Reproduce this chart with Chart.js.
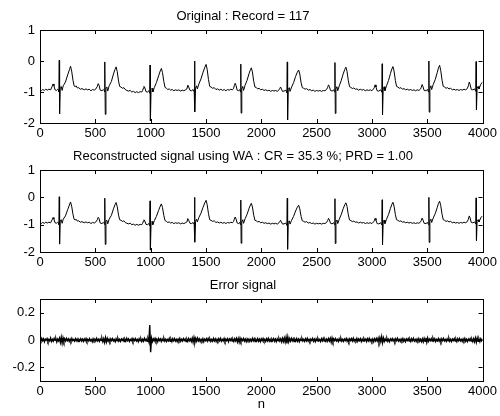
<!DOCTYPE html>
<html>
<head>
<meta charset="utf-8">
<script src="https://cdn.jsdelivr.net/npm/chart.js@4.4.1/dist/chart.umd.min.js"></script>
<style>
  body { margin: 0; background: #fff; }
  canvas { position: absolute; left: 0; }
</style>
</head>
<body>
<canvas id="c1" width="500" height="140" style="top:0px"></canvas>
<canvas id="c2" width="500" height="132" style="top:140px"></canvas>
<canvas id="c3" width="500" height="147" style="top:269px"></canvas>
<script>
// x ticks shared by the three panels
var nTicks = [0, 500, 1000, 1500, 2000, 2500, 3000, 3500, 4000];
var ecgTicks = [-2, -1, 0, 1];
var errTicks = [-0.2, 0, 0.2];

var titles = [
  'Original : Record = 117',
  'Reconstructed signal using WA : CR = 35.3 %; PRD = 1.00',
  'Error signal'
];

// original ECG, record 117 : [n, amplitude]
var ecgOriginal = [
  [0,-0.93],[12,-0.96],[24,-0.92],[40,-0.95],[52,-0.91],[66,-0.94],[80,-0.91],[96,-0.93],[110,-0.82],[118,-0.74],[126,-0.8],[136,-0.93],
  [150,-0.95],[160,-0.91],[167,-0.93],[171,-1.0],[174,0.02],[177,-1.71],[183,-0.85],[192,-0.82],[200,-0.95],[210,-0.8],[230,-0.68],
  [250,-0.45],[266,-0.28],[276,-0.17],[286,-0.32],[298,-0.62],[308,-0.8],[318,-0.83],[326,-0.8],[338,-0.87],[350,-0.86],[365,-0.91],
  [380,-0.89],[400,-0.93],[415,-0.9],[430,-0.93],[445,-0.91],[460,-0.96],[475,-0.92],[490,-0.94],[505,-0.9],
  [518,-0.82],[526,-0.73],[534,-0.78],[544,-0.94],[560,-0.96],[572,-0.92],[581,-0.95],[584,-1.0],[587,-0.03],[590,-1.72],[596,-0.87],
  [605,-0.84],[612,-0.97],[625,-0.8],[645,-0.66],[664,-0.42],[678,-0.27],[688,-0.19],[698,-0.34],[710,-0.65],[720,-0.82],
  [732,-0.84],[745,-0.88],[758,-0.86],[770,-0.92],[785,-0.95],[800,-0.97],[815,-0.95],[830,-1.0],[845,-0.98],[860,-1.02],
  [875,-0.99],[890,-1.02],[905,-0.99],[920,-1.0],[928,-0.95],
  [934,-0.88],[940,-0.82],[948,-0.87],[958,-0.99],[972,-1.0],[984,-0.96],[992,-1.04],[995,-0.13],[998,-1.93],[1004,-0.92],
  [1013,-0.88],[1020,-1.0],[1034,-0.85],[1052,-0.7],[1072,-0.48],[1087,-0.32],[1097,-0.24],[1107,-0.37],[1119,-0.66],[1130,-0.85],
  [1142,-0.88],[1155,-0.92],[1168,-0.9],[1180,-0.94],[1195,-0.92],[1210,-0.96],[1225,-0.93],[1240,-0.95],[1255,-0.93],[1270,-0.97],
  [1285,-0.94],[1300,-0.96],[1315,-0.93],[1328,-0.9],
  [1336,-0.78],[1344,-0.84],[1356,-0.95],[1370,-0.96],[1384,-0.92],[1394,-1.0],[1397,0.0],[1400,-1.64],[1406,-0.88],[1415,-0.8],
  [1422,-0.9],[1436,-0.74],[1455,-0.58],[1474,-0.36],[1490,-0.2],[1501,-0.11],[1511,-0.27],[1523,-0.6],[1534,-0.82],[1546,-0.84],
  [1560,-0.88],[1575,-0.86],[1590,-0.92],[1605,-0.9],[1620,-0.94],[1635,-0.91],[1650,-0.95],[1665,-0.92],[1680,-0.96],[1695,-0.92],
  [1710,-0.94],[1725,-0.91],[1740,-0.93],[1750,-0.88],
  [1756,-0.8],[1764,-0.72],[1772,-0.79],[1782,-0.94],[1796,-0.96],[1806,-0.92],[1812,-1.0],[1815,-0.1],[1818,-1.68],[1824,-0.9],
  [1833,-0.82],[1840,-0.95],[1854,-0.78],[1872,-0.62],[1890,-0.4],[1902,-0.28],[1910,-0.22],[1920,-0.35],[1932,-0.66],[1943,-0.84],
  [1955,-0.86],[1968,-0.9],[1980,-0.88],[1995,-0.93],[2010,-0.91],[2025,-0.95],[2040,-0.93],[2055,-0.96],[2070,-0.94],[2085,-0.98],
  [2100,-0.95],[2115,-0.97],[2130,-0.95],[2145,-0.98],[2160,-0.93],
  [2166,-0.9],[2174,-0.84],[2182,-0.9],[2192,-0.98],[2206,-0.97],[2222,-0.94],[2232,-1.03],[2235,-0.03],[2238,-1.9],[2244,-0.92],
  [2253,-0.86],[2260,-0.98],[2274,-0.84],[2292,-0.7],[2310,-0.5],[2326,-0.36],[2338,-0.29],[2348,-0.42],[2360,-0.7],[2371,-0.86],
  [2383,-0.88],[2396,-0.91],[2410,-0.89],[2425,-0.94],[2440,-0.92],[2455,-0.96],[2470,-0.94],[2485,-0.98],[2500,-0.95],[2515,-0.97],
  [2530,-0.95],[2545,-0.98],[2560,-0.95],[2575,-0.96],[2590,-0.92],
  [2600,-0.85],[2608,-0.77],[2616,-0.83],[2626,-0.95],[2640,-0.97],[2654,-0.93],[2663,-1.0],[2666,-0.05],[2669,-1.69],[2675,-0.9],
  [2684,-0.83],[2691,-0.96],[2705,-0.8],[2722,-0.64],[2740,-0.42],[2755,-0.27],[2765,-0.2],[2775,-0.33],[2787,-0.64],[2798,-0.83],
  [2810,-0.85],[2823,-0.89],[2836,-0.87],[2850,-0.91],[2865,-0.9],[2880,-0.94],[2895,-0.91],[2910,-0.94],[2925,-0.92],[2940,-0.96],
  [2955,-0.93],[2970,-0.95],[2985,-0.93],[3000,-0.96],[3014,-0.9],
  [3021,-0.86],[3029,-0.77],[3037,-0.84],[3047,-0.96],[3062,-0.97],[3080,-0.93],[3090,-1.01],[3093,-0.09],[3096,-1.74],[3102,-0.9],
  [3111,-0.83],[3118,-0.96],[3132,-0.8],[3150,-0.63],[3168,-0.4],[3180,-0.26],[3190,-0.18],[3200,-0.32],[3212,-0.63],[3223,-0.82],
  [3235,-0.84],[3248,-0.88],[3262,-0.86],[3276,-0.91],[3290,-0.89],[3305,-0.93],[3320,-0.91],[3335,-0.94],[3350,-0.92],[3365,-0.95],
  [3380,-0.93],[3395,-0.96],[3410,-0.93],[3425,-0.95],[3440,-0.9],
  [3446,-0.85],[3454,-0.76],[3462,-0.83],[3472,-0.95],[3488,-0.96],[3503,-0.92],[3512,-1.0],[3515,0.0],[3518,-1.65],[3524,-0.88],
  [3533,-0.8],[3540,-0.92],[3554,-0.76],[3572,-0.6],[3590,-0.38],[3602,-0.22],[3612,-0.14],[3622,-0.3],[3634,-0.62],[3645,-0.82],
  [3657,-0.84],[3670,-0.88],[3683,-0.86],[3697,-0.9],[3712,-0.88],[3727,-0.93],[3742,-0.91],[3757,-0.94],[3772,-0.92],[3787,-0.95],
  [3802,-0.92],[3817,-0.94],[3832,-0.91],[3847,-0.93],[3862,-0.89],
  [3872,-0.8],[3880,-0.68],[3888,-0.76],[3898,-0.92],[3912,-0.93],[3928,-0.9],[3939,-0.98],[3942,-0.02],[3945,-1.58],[3951,-0.88],
  [3960,-0.82],[3968,-0.9],[3984,-0.75],[4000,-0.68]
];

// reconstruction: at this scale it reads the same as the original (PRD = 1 %)
var ecgReconstructed = ecgOriginal;

// error signal, one reading every errStep samples from n = 0, in units of 0.001
var errStep = 8;
var errValues = [
  3,-9,12,-5,8,-13,6,-2,10,-11,4,-7,14,-10,5,-8,11,-3,9,-14,7,-6,13,-18,20,
  -22,16,-12,9,-7,11,-4,8,-10,6,-9,12,-5,3,-8,10,-6,7,-11,5,-4,9,-7,6,-10,
  8,-5,11,-9,4,-7,10,-6,3,-12,9,-5,7,-8,12,-6,5,-10,8,-4,11,-13,9,-18,17,
  -15,12,-9,6,-11,8,-5,10,-7,4,-12,9,-6,11,-8,5,-10,7,-3,9,-11,6,-8,12,-5,
  7,-10,4,-6,11,-9,8,-5,10,-7,3,-12,9,-6,8,-11,5,-9,12,-4,7,-10,9,-13,110,
  -90,14,-11,8,-6,12,-9,5,-13,10,-4,8,-11,7,-5,12,-8,6,-10,4,-7,11,-9,6,-12,
  9,-5,10,-8,4,-11,7,-6,12,-9,5,-7,10,-4,8,-12,6,-9,11,-5,8,-10,13,-16,18,
  -17,12,-9,14,-6,8,-11,5,-7,10,-12,6,-4,9,-8,11,-5,7,-10,4,-9,12,-6,8,-11,
  5,-8,10,-6,12,-9,4,-7,11,-10,6,-5,9,-12,8,-4,10,-7,5,-11,9,-6,12,-14,10,
  -16,13,-10,7,-5,11,-8,6,-12,9,-4,7,-10,5,-8,12,-6,9,-11,4,-7,10,-9,6,-12,
  8,-5,11,-7,4,-10,9,-6,12,-8,5,-11,7,-4,10,-9,6,-12,8,-5,11,-7,9,-13,12,
  -11,14,-15,20,-24,22,-14,10,-8,12,-6,9,-11,5,-7,10,-9,6,-12,8,-4,11,-7,5,-10,
  9,-6,12,-8,5,-10,7,-4,11,-9,6,-12,8,-5,10,-7,4,-11,9,-6,12,-8,5,-10,7,
  -9,11,-6,13,-16,15,-12,8,-5,10,-7,4,-11,9,-6,12,-8,5,-10,7,-4,11,-9,6,-12,
  8,-5,10,-7,12,-9,4,-6,11,-10,7,-5,9,-12,6,-8,10,-4,7,-11,9,-6,12,-8,5,
  -10,7,-12,9,-6,11,-8,13,-14,16,-12,24,-20,15,-10,8,-6,11,-9,5,-12,8,-4,10,-7,
  6,-11,9,-5,12,-8,4,-10,7,-6,11,-9,5,-12,8,-4,10,-7,6,-11,9,-5,12,-8,4,
  -10,7,-6,11,-9,5,-12,8,-14,12,-10,16,-18,14,-9,7,-5,10,-8,12,-6,9,-11,4,-7,
  10,-8,6,-12,9,-5,11,-7,4,-10,8,-6,12,-9,5,-11,7,-4,10,-8,6,-12,9,-5,11,
  -7,4,-10,8,-6,12,-9,5,-11,7,-4,10,-8,6,-12,9,-13,15,-17,14,-10,8,-12,9,-6,
  8
];
var errSignal = errValues.map(function(v, i) { return [i * errStep, v / 1000]; });

var FONT = '"Liberation Sans", Arial, Helvetica, sans-serif';
Chart.defaults.font.family = FONT;
Chart.defaults.font.size = 13;
Chart.defaults.color = '#000';

// matlab style box with inward ticks on all four sides
var matlabBox = {
  id: 'matlabBox',
  afterDraw: function(chart) {
    var ctx = chart.ctx, a = chart.chartArea;
    var xs = chart.scales.x, ys = chart.scales.y;
    ctx.save();
    ctx.strokeStyle = '#000';
    ctx.lineWidth = 1;
    ctx.strokeRect(Math.round(a.left) + 0.5, Math.round(a.top) + 0.5,
      Math.round(a.right - a.left), Math.round(a.bottom - a.top));
    ctx.beginPath();
    xs.ticks.forEach(function(t) {
      var px = Math.round(xs.getPixelForValue(t.value)) + 0.5;
      ctx.moveTo(px, a.bottom); ctx.lineTo(px, a.bottom - 4);
      ctx.moveTo(px, a.top); ctx.lineTo(px, a.top + 4);
    });
    ys.ticks.forEach(function(t) {
      var py = Math.round(ys.getPixelForValue(t.value)) + 0.5;
      ctx.moveTo(a.left, py); ctx.lineTo(a.left + 4, py);
      ctx.moveTo(a.right, py); ctx.lineTo(a.right - 4, py);
    });
    ctx.stroke();
    ctx.restore();
  }
};

function makePanel(id, title, points, yMin, yMax, yTicks, axisHeight, xTitle, lineW) {
  var ctx = document.getElementById(id).getContext('2d');
  return new Chart(ctx, {
    type: 'line',
    data: {
      datasets: [{
        data: points.map(function(p) { return {x: p[0], y: p[1]}; }),
        borderColor: '#000',
        borderWidth: lineW || 1,
        pointRadius: 0,
        tension: 0,
        fill: false
      }]
    },
    options: {
      responsive: false,
      animation: false,
      layout: { padding: { left: 0, right: 14, top: 0, bottom: 0 } },
      plugins: {
        legend: { display: false },
        tooltip: { enabled: false },
        title: {
          display: true,
          text: title,
          font: { size: 13, weight: 'normal' },
          padding: { top: 8.5, bottom: 5.9 }
        }
      },
      scales: {
        x: {
          type: 'linear',
          min: 0, max: 4000,
          grid: { display: false, drawTicks: false },
          border: { display: false },
          ticks: {
            padding: 3,
            maxRotation: 0,
            callback: function(v) { return String(v); }
          },
          afterBuildTicks: function(s) { s.ticks = nTicks.map(function(v) { return {value: v}; }); },
          afterFit: function(s) { s.height = axisHeight; },
          title: xTitle ? { display: true, text: xTitle, font: { size: 13 }, padding: { top: 0, bottom: 4 } } : { display: false }
        },
        y: {
          min: yMin, max: yMax,
          grid: { display: false, drawTicks: false },
          border: { display: false },
          ticks: {
            padding: 5,
            callback: function(v) { return String(v); }
          },
          afterBuildTicks: function(s) { s.ticks = yTicks.map(function(v) { return {value: v}; }); },
          afterFit: function(s) { s.width = 40; }
        }
      }
    },
    plugins: [matlabBox]
  });
}

makePanel('c1', titles[0], ecgOriginal, -2, 1, ecgTicks, 17);
makePanel('c2', titles[1], ecgReconstructed, -2, 1, ecgTicks, 20);
makePanel('c3', titles[2], errSignal, -0.3, 0.3, errTicks, 35, 'n', 1.4);
</script>
</body>
</html>
